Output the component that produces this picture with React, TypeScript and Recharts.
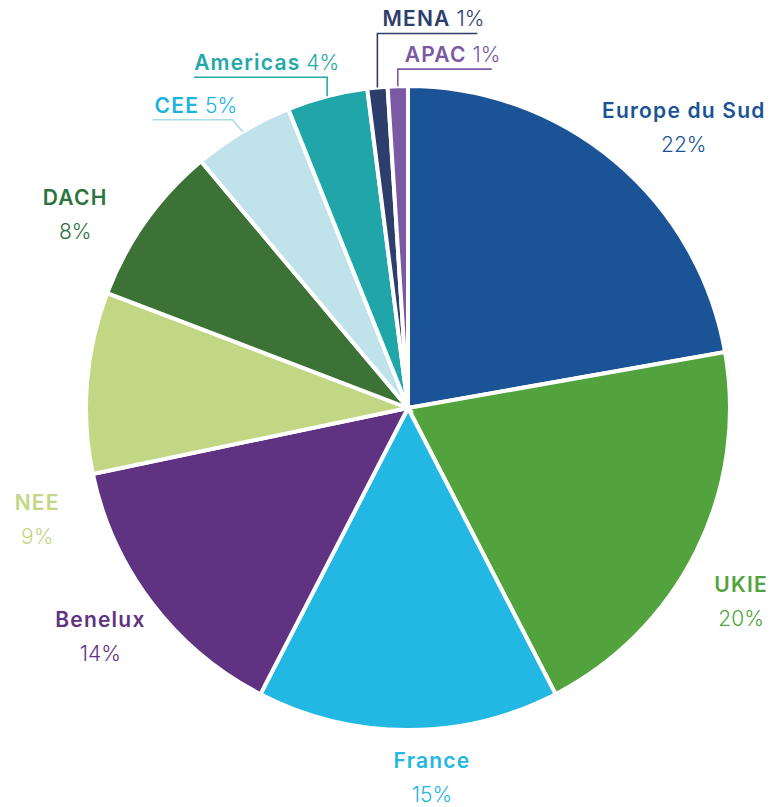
import { PieChart, Pie, Cell } from "recharts";

const REGIONS = [
  "Europe du Sud",
  "UKIE",
  "France",
  "Benelux",
  "NEE",
  "DACH",
  "CEE",
  "Americas",
  "MENA",
  "APAC",
];
const SHARES = [22, 20, 15, 14, 9, 8, 5, 4, 1, 1];

const SLICE_COLORS = [
  "#1b5496",
  "#52a23d",
  "#23b7e3",
  "#5f3282",
  "#c2d784",
  "#3d7236",
  "#bfe2eb",
  "#20a6a8",
  "#2d3d6c",
  "#7b59a3",
];
const TEXT_COLORS = [
  "#1b5496",
  "#52a23d",
  "#23b7e3",
  "#5f3282",
  "#c2d784",
  "#2b7440",
  "#1cb3e0",
  "#25a8a8",
  "#2e3e6c",
  "#7b59a3",
];
const LEADER_COLORS: Record<number, string> = {
  6: "#a9dbe9",
  7: "#25a8a8",
  8: "#2e3e6c",
  9: "#7b59a3",
};

const data = REGIONS.map((name, i) => ({ name, value: SHARES[i] }));

const FONT = "Inter, 'Open Sans', sans-serif";
const RAD = Math.PI / 180;

// two-line labels: shift from the point at outerRadius + 62 on the mid angle
const BLOCK_SHIFT: Record<number, [number, number]> = {
  0: [29, 14],
  1: [-11, 23],
  2: [24, -14],
  3: [-2, -4],
  4: [12, 142],
  5: [-20, 30],
};

// small slices: elbow offset from slice edge, line length (negative = to the left)
const LEADERS: Record<number, { dx: number; dy: number; len: number; textDx: number }> = {
  6: { dx: -10, dy: -12, len: -80, textDx: 2 },
  7: { dx: 0, dy: -19, len: -133, textDx: 0 },
  8: { dx: 0, dy: -54, len: 100, textDx: 5 },
  9: { dx: 0, dy: -17, len: 94, textDx: 7 },
};

const polar = (cx: number, cy: number, r: number, angle: number) => ({
  x: cx + r * Math.cos(-angle * RAD),
  y: cy + r * Math.sin(-angle * RAD),
});

const renderLabel = (props: any) => {
  const { cx, cy, midAngle, outerRadius, index } = props;
  const color = TEXT_COLORS[index];
  const name = REGIONS[index];
  const pct = `${SHARES[index]}%`;

  const leader = LEADERS[index];
  if (leader) {
    const edge = polar(cx, cy, outerRadius, midAngle);
    const ex = edge.x + leader.dx;
    const ey = edge.y + leader.dy;
    const far = ex + leader.len;
    const textX = Math.min(ex, far) + leader.textDx;
    return (
      <g key={`label-${index}`}>
        <polyline
          points={`${far},${ey} ${ex},${ey} ${edge.x},${edge.y}`}
          fill="none"
          stroke={LEADER_COLORS[index]}
          strokeWidth={1.6}
        />
        <text x={textX} y={ey - 7} fontFamily={FONT} fontSize={21} fill={color}>
          <tspan fontWeight={600} letterSpacing={1.2}>{name}</tspan>
          <tspan fontWeight={300}> {pct}</tspan>
        </text>
      </g>
    );
  }

  const anchor = polar(cx, cy, outerRadius + 62, midAngle);
  const [sx, sy] = BLOCK_SHIFT[index];
  const x = anchor.x + sx;
  const y = anchor.y + sy;
  return (
    <g key={`label-${index}`}>
      <text
        x={x}
        y={y - 10}
        textAnchor="middle"
        fontFamily={FONT}
        fontSize={21}
        fontWeight={600}
        letterSpacing={1.2}
        fill={color}
      >
        {name}
      </text>
      <text x={x} y={y + 24} textAnchor="middle" fontFamily={FONT} fontSize={21} fontWeight={300} fill={color}>
        {pct}
      </text>
    </g>
  );
};

export default function App() {
  return (
    <div style={{ position: "absolute", left: 0, top: 0, background: "#fff" }}>
      <PieChart width={777} height={807} margin={{ top: 0, right: 0, bottom: 0, left: 0 }}>
        <Pie
          data={data}
          dataKey="value"
          nameKey="name"
          cx={408}
          cy={408}
          outerRadius={322}
          startAngle={90}
          endAngle={-270}
          stroke="#ffffff"
          strokeWidth={4}
          label={renderLabel}
          labelLine={false}
          isAnimationActive={false}
        >
          {data.map((d, i) => (
            <Cell key={d.name} fill={SLICE_COLORS[i]} />
          ))}
        </Pie>
      </PieChart>
    </div>
  );
}
